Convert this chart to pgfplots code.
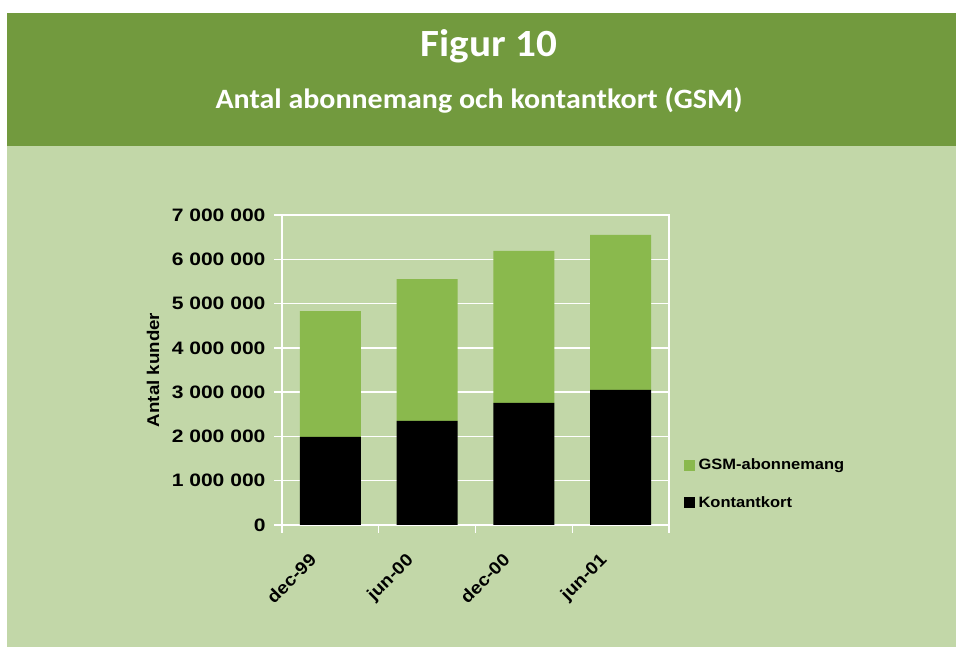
\documentclass[border=0pt]{standalone}
\usepackage{fontspec}
\setmainfont[FakeStretch=1.1]{Liberation Sans}
\newfontfamily\tickfont[FakeStretch=1.17]{Liberation Sans}
\newfontfamily\headfont[FakeStretch=1.07]{Carlito}
\usepackage{pgfplots}
\pgfplotsset{compat=1.18}
\definecolor{headgreen}{RGB}{114,154,62}
\definecolor{bggreen}{RGB}{194,215,168}
\definecolor{bargreen}{RGB}{138,185,77}
\begin{document}
\begin{tikzpicture}[x=1pt,y=1pt]
\path[use as bounding box] (0,0) rectangle (956,648);
\fill[white] (0,0) rectangle (956,648);
\fill[bggreen] (7,1) rectangle (956,635);
\fill[headgreen] (7,502) rectangle (956,635);
\node[anchor=base, text=white, font=\headfont\bfseries\fontsize{38.5}{42}\selectfont, inner sep=0pt] at (489,591) {Figur 10};
\node[anchor=base, text=white, font=\headfont\bfseries\fontsize{28}{32}\selectfont, inner sep=0pt] at (479,539) {Antal abonnemang och kontantkort (GSM)};
\begin{axis}[
  at={(330.375pt,123pt)}, anchor=origin,
  scale only axis, width=387pt, height=310pt,
  ybar stacked, bar width=61pt,
  xmin=-0.5, xmax=3.5, ymin=0, ymax=7000000,
  xtick={0,1,2,3},
  xticklabels={dec-99,jun-00,dec-00,jun-01},
  minor xtick={-0.5,0.5,1.5,2.5,3.5},
  ytick={0,1000000,2000000,3000000,4000000,5000000,6000000,7000000},
  yticklabels={0,1 000 000,2 000 000,3 000 000,4 000 000,5 000 000,6 000 000,7 000 000},
  scaled y ticks=false,
  xtick pos=bottom, ytick pos=left,
  tick align=outside,
  major tick length=8pt, minor tick length=8pt,
  major x tick style={draw=none},
  minor x tick style={draw=white, line width=1.4pt},
  y tick style={draw=white, line width=1.4pt},
  ymajorgrids, major grid style={white, line width=1.4pt},
  axis line style={white, line width=1.6pt},
  ticklabel style={text=black},
  yticklabel style={font=\tickfont\bfseries\fontsize{18}{20}\selectfont, xshift=-5pt},
  xticklabel style={font=\bfseries\fontsize{17.5}{19}\selectfont, xshift=-22pt, yshift=-19pt, rotate=45, anchor=north east, inner sep=0pt},
  ylabel={Antal kunder},
  ylabel style={font=\bfseries\fontsize{17}{19}\selectfont, at={(axis description cs:-0.3333,0.5)}, anchor=center},
  reverse legend,
  legend style={draw=none, fill=none, at={(1.037,0.133)}, anchor=west,
    font=\bfseries\fontsize{15}{17}\selectfont, row sep=21pt, inner sep=0pt,
    nodes={inner sep=2pt}},
  legend cell align=left,
  legend image code/.code={\fill[#1, draw=none] (0pt,-5.5pt) rectangle (11pt,5.5pt); \path (13pt,0pt);},
]
\addplot[fill=black, draw=none] coordinates {(0,1990000) (1,2350000) (2,2760000) (3,3050000)};
\addplot[fill=bargreen, draw=none] coordinates {(0,2840000) (1,3200000) (2,3430000) (3,3500000)};
\legend{Kontantkort, GSM-abonnemang}
\end{axis}
\end{tikzpicture}
\end{document}
